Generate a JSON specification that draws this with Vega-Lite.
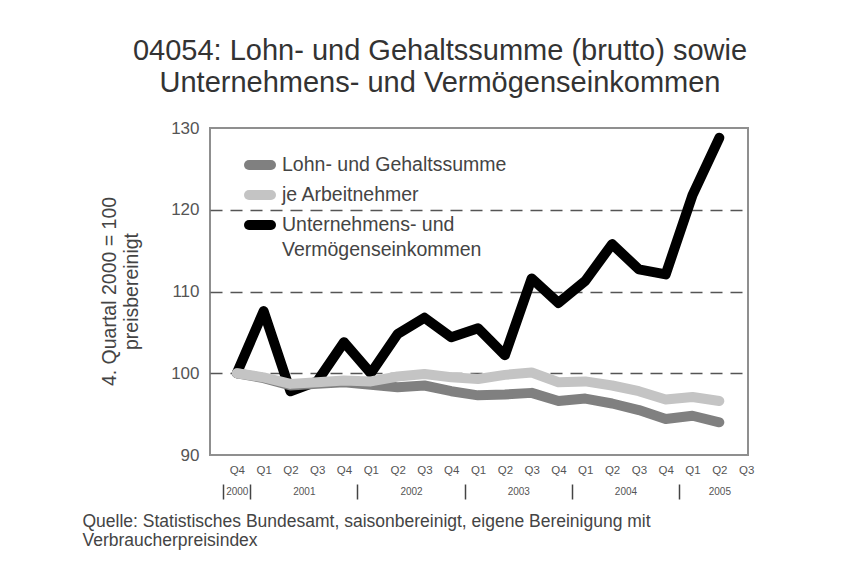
{
  "$schema": "https://vega.github.io/schema/vega-lite/v6.json",
  "width": 538,
  "height": 327,
  "autosize": {"type": "none"},
  "padding": {"left": 210, "top": 128, "right": 95, "bottom": 119},
  "background": "white",
  "config": {
    "font": "Liberation Sans",
    "view": {"stroke": "#8f8f8f", "strokeWidth": 2},
    "style": {"guide-label": {"lineHeight": 25}}
  },
  "title": {
    "text": ["04054: Lohn- und Gehaltssumme (brutto) sowie", "Unternehmens- und Vermögenseinkommen"],
    "fontSize": 29,
    "fontWeight": "normal",
    "color": "#333333",
    "lineHeight": 32,
    "anchor": "middle",
    "dx": -39,
    "offset": 21
  },
  "data": {
    "values": [
      {"Periode": 2000.75, "Reihe": "Unternehmens- und Vermögenseinkommen", "Wert": 100.0},
      {"Periode": 2001.0, "Reihe": "Unternehmens- und Vermögenseinkommen", "Wert": 107.6},
      {"Periode": 2001.25, "Reihe": "Unternehmens- und Vermögenseinkommen", "Wert": 97.8},
      {"Periode": 2001.5, "Reihe": "Unternehmens- und Vermögenseinkommen", "Wert": 99.0},
      {"Periode": 2001.75, "Reihe": "Unternehmens- und Vermögenseinkommen", "Wert": 103.8},
      {"Periode": 2002.0, "Reihe": "Unternehmens- und Vermögenseinkommen", "Wert": 100.0},
      {"Periode": 2002.25, "Reihe": "Unternehmens- und Vermögenseinkommen", "Wert": 104.8},
      {"Periode": 2002.5, "Reihe": "Unternehmens- und Vermögenseinkommen", "Wert": 106.8},
      {"Periode": 2002.75, "Reihe": "Unternehmens- und Vermögenseinkommen", "Wert": 104.4},
      {"Periode": 2003.0, "Reihe": "Unternehmens- und Vermögenseinkommen", "Wert": 105.5},
      {"Periode": 2003.25, "Reihe": "Unternehmens- und Vermögenseinkommen", "Wert": 102.2},
      {"Periode": 2003.5, "Reihe": "Unternehmens- und Vermögenseinkommen", "Wert": 111.6},
      {"Periode": 2003.75, "Reihe": "Unternehmens- und Vermögenseinkommen", "Wert": 108.6},
      {"Periode": 2004.0, "Reihe": "Unternehmens- und Vermögenseinkommen", "Wert": 111.3},
      {"Periode": 2004.25, "Reihe": "Unternehmens- und Vermögenseinkommen", "Wert": 115.8},
      {"Periode": 2004.5, "Reihe": "Unternehmens- und Vermögenseinkommen", "Wert": 112.7},
      {"Periode": 2004.75, "Reihe": "Unternehmens- und Vermögenseinkommen", "Wert": 112.1},
      {"Periode": 2005.0, "Reihe": "Unternehmens- und Vermögenseinkommen", "Wert": 121.8},
      {"Periode": 2005.25, "Reihe": "Unternehmens- und Vermögenseinkommen", "Wert": 128.8},
      {"Periode": 2000.75, "Reihe": "Lohn- und Gehaltssumme", "Wert": 100.0},
      {"Periode": 2001.0, "Reihe": "Lohn- und Gehaltssumme", "Wert": 99.4},
      {"Periode": 2001.25, "Reihe": "Lohn- und Gehaltssumme", "Wert": 98.5},
      {"Periode": 2001.5, "Reihe": "Lohn- und Gehaltssumme", "Wert": 98.7},
      {"Periode": 2001.75, "Reihe": "Lohn- und Gehaltssumme", "Wert": 98.9},
      {"Periode": 2002.0, "Reihe": "Lohn- und Gehaltssumme", "Wert": 98.6},
      {"Periode": 2002.25, "Reihe": "Lohn- und Gehaltssumme", "Wert": 98.3},
      {"Periode": 2002.5, "Reihe": "Lohn- und Gehaltssumme", "Wert": 98.5},
      {"Periode": 2002.75, "Reihe": "Lohn- und Gehaltssumme", "Wert": 97.8},
      {"Periode": 2003.0, "Reihe": "Lohn- und Gehaltssumme", "Wert": 97.3},
      {"Periode": 2003.25, "Reihe": "Lohn- und Gehaltssumme", "Wert": 97.4},
      {"Periode": 2003.5, "Reihe": "Lohn- und Gehaltssumme", "Wert": 97.6},
      {"Periode": 2003.75, "Reihe": "Lohn- und Gehaltssumme", "Wert": 96.6},
      {"Periode": 2004.0, "Reihe": "Lohn- und Gehaltssumme", "Wert": 96.9},
      {"Periode": 2004.25, "Reihe": "Lohn- und Gehaltssumme", "Wert": 96.3},
      {"Periode": 2004.5, "Reihe": "Lohn- und Gehaltssumme", "Wert": 95.5},
      {"Periode": 2004.75, "Reihe": "Lohn- und Gehaltssumme", "Wert": 94.4},
      {"Periode": 2005.0, "Reihe": "Lohn- und Gehaltssumme", "Wert": 94.8},
      {"Periode": 2005.25, "Reihe": "Lohn- und Gehaltssumme", "Wert": 94.0},
      {"Periode": 2000.75, "Reihe": "je Arbeitnehmer", "Wert": 100.0},
      {"Periode": 2001.0, "Reihe": "je Arbeitnehmer", "Wert": 99.5},
      {"Periode": 2001.25, "Reihe": "je Arbeitnehmer", "Wert": 98.7},
      {"Periode": 2001.5, "Reihe": "je Arbeitnehmer", "Wert": 98.9},
      {"Periode": 2001.75, "Reihe": "je Arbeitnehmer", "Wert": 99.1},
      {"Periode": 2002.0, "Reihe": "je Arbeitnehmer", "Wert": 99.0},
      {"Periode": 2002.25, "Reihe": "je Arbeitnehmer", "Wert": 99.6},
      {"Periode": 2002.5, "Reihe": "je Arbeitnehmer", "Wert": 99.9},
      {"Periode": 2002.75, "Reihe": "je Arbeitnehmer", "Wert": 99.5},
      {"Periode": 2003.0, "Reihe": "je Arbeitnehmer", "Wert": 99.3},
      {"Periode": 2003.25, "Reihe": "je Arbeitnehmer", "Wert": 99.8},
      {"Periode": 2003.5, "Reihe": "je Arbeitnehmer", "Wert": 100.1},
      {"Periode": 2003.75, "Reihe": "je Arbeitnehmer", "Wert": 98.9},
      {"Periode": 2004.0, "Reihe": "je Arbeitnehmer", "Wert": 99.0},
      {"Periode": 2004.25, "Reihe": "je Arbeitnehmer", "Wert": 98.5},
      {"Periode": 2004.5, "Reihe": "je Arbeitnehmer", "Wert": 97.8},
      {"Periode": 2004.75, "Reihe": "je Arbeitnehmer", "Wert": 96.8},
      {"Periode": 2005.0, "Reihe": "je Arbeitnehmer", "Wert": 97.1},
      {"Periode": 2005.25, "Reihe": "je Arbeitnehmer", "Wert": 96.6}
    ]
  },
  "resolve": {"axis": {"x": "independent"}},
  "layer": [
    {
      "mark": {"type": "line", "strokeWidth": 10, "strokeCap": "round", "strokeJoin": "round"},
      "encoding": {
        "x": {
          "field": "Periode", "type": "quantitative",
          "scale": {"domain": [2000.5, 2005.5175], "nice": false, "zero": false},
          "axis": {
            "orient": "bottom",
            "title": null,
            "values": [2000.75, 2001, 2001.25, 2001.5, 2001.75, 2002, 2002.25, 2002.5, 2002.75, 2003, 2003.25, 2003.5, 2003.75, 2004, 2004.25, 2004.5, 2004.75, 2005, 2005.25, 2005.5],
            "labelExpr": "'Q' + (round((datum.value - floor(datum.value)) * 4) + 1)",
            "ticks": false, "tickSize": 0, "domain": false, "grid": false,
            "labelFontSize": 11.5, "labelColor": "#555555", "labelPadding": 9,
            "labelFlush": false, "labelOverlap": false
          }
        },
        "y": {
          "field": "Wert", "type": "quantitative",
          "scale": {"domain": [90, 130], "nice": false, "zero": false},
          "axis": {
            "values": [90, 100, 110, 120, 130],
            "ticks": false, "tickSize": 0, "domain": false,
            "grid": true, "gridColor": "#555555", "gridDash": [12, 8], "gridWidth": 1.5,
            "gridOpacity": {"condition": {"test": "datum.value == 90 || datum.value == 130", "value": 0}, "value": 1},
            "labelFontSize": 17, "labelColor": "#555555", "labelPadding": 11,
            "title": ["4. Quartal 2000 = 100", "preisbereinigt"],
            "titleFontSize": 19.5, "titleFontWeight": "normal", "titleColor": "#444444",
            "titleLineHeight": 22, "titleX": -110, "titleY": 163, "titleBaseline": "top", "titleAngle": -90, "titleAlign": "center"
          }
        },
        "color": {
          "field": "Reihe", "type": "nominal",
          "scale": {
            "domain": ["Lohn- und Gehaltssumme", "je Arbeitnehmer", "Unternehmens- und Vermögenseinkommen"],
            "range": ["#808080", "#c4c4c4", "#000000"]
          },
          "legend": {
            "title": null, "orient": "none", "legendX": 40, "legendY": 27, "padding": 0,
            "symbolType": "M-2.2,0H2.2", "symbolStrokeWidth": 10, "symbolSize": 100,
            "labelFontSize": 19.5, "labelColor": "#444444", "labelOffset": 12,
            "rowPadding": -20, "labelLimit": 400,
            "labelExpr": "datum.label == 'Unternehmens- und Vermögenseinkommen' ? ['Unternehmens- und', 'Vermögenseinkommen'] : datum.label",
            "encode": {"symbols": {"update": {"strokeCap": {"value": "round"}}}}
          }
        },
        "order": {"field": "Periode", "type": "quantitative"}
      }
    },
    {
      "mark": {"type": "point", "opacity": 0},
      "encoding": {
        "x": {
          "field": "Periode", "type": "quantitative",
          "axis": {
            "orient": "bottom",
            "title": null,
            "values": [2000.75, 2001.375, 2002.375, 2003.375, 2004.375, 2005.25],
            "labelExpr": "'' + floor(datum.value)",
            "ticks": false, "tickSize": 0, "domain": false, "grid": false,
            "labelFontSize": 10, "labelColor": "#555555", "labelPadding": 31,
            "labelFlush": false, "labelOverlap": false
          }
        }
      }
    },
    {
      "mark": {"type": "point", "opacity": 0},
      "encoding": {
        "x": {
          "field": "Periode", "type": "quantitative",
          "axis": {
            "orient": "bottom",
            "values": [2000.625, 2000.875, 2001.875, 2002.875, 2003.875, 2004.875],
            "labels": false, "domain": false, "grid": false,
            "ticks": true, "tickSize": 15, "tickWidth": 1.5, "tickColor": "#444444",
            "offset": 29,
            "title": ["Quelle: Statistisches Bundesamt, saisonbereinigt, eigene Bereinigung mit", "Verbraucherpreisindex"],
            "titleFontSize": 17.5, "titleFontWeight": "normal", "titleColor": "#444444",
            "titleAlign": "left", "titleAnchor": "start", "titleBaseline": "top",
            "titleX": -128, "titleY": 28, "titleLineHeight": 19
          }
        }
      }
    }
  ]
}
